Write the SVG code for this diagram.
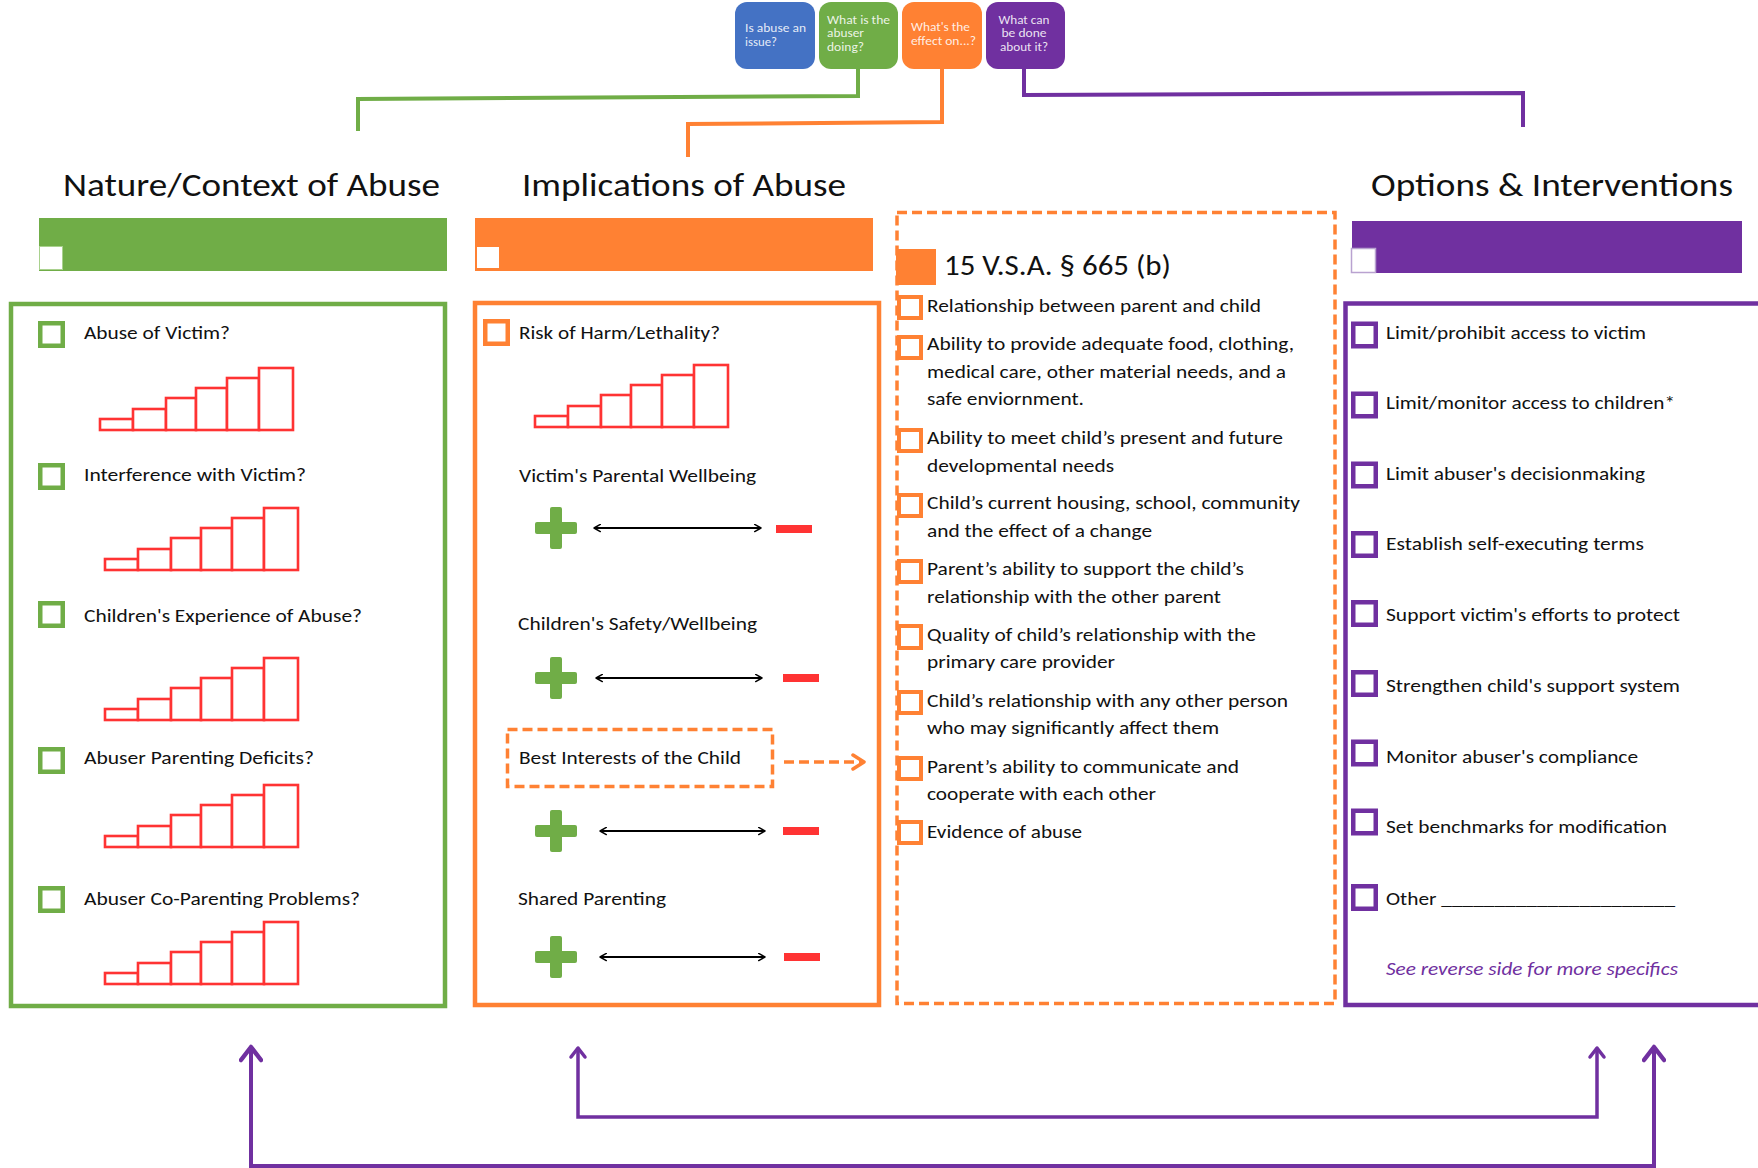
<svg xmlns="http://www.w3.org/2000/svg" xmlns:xlink="http://www.w3.org/1999/xlink" width="1758" height="1168" viewBox="0 0 1758 1168">
<style>
text { font-family: Carlito, Lato, "Liberation Sans", sans-serif; fill: #111; }
.q { font-size: 13px; fill: #ffffff; fill-opacity: 0.88; }
.title { font-size: 33px; }
.b { font-size: 19px; }
.stat { font-size: 29px; }
.it { font-style: italic; fill: #7030A0; }
.cbG { fill: #fff; stroke: #70AD47; stroke-width: 4.5; }
.cbO { fill: #fff; stroke: #FF8133; stroke-width: 4.5; }
.cbS { fill: #fff; stroke: #FF8133; stroke-width: 4; }
.cbP { fill: #fff; stroke: #7030A0; stroke-width: 4.5; }
.stair rect { fill: #fff; stroke: #FF3333; stroke-width: 2.6; }
.plus { fill: #70AD47; }
.minus { fill: #FF3333; }
.dbl { stroke: #000; stroke-width: 1.8; fill: none; marker-start: url(#ah); marker-end: url(#ah); }
.conn { fill: none; stroke-width: 4; stroke-linejoin: miter; }
</style>
<defs>
<marker id="ah" viewBox="0 0 10 10" refX="9" refY="5" markerWidth="9" markerHeight="9" markerUnits="userSpaceOnUse" orient="auto-start-reverse">
<path d="M2,1 L9,5 L2,9" fill="none" stroke="#000" stroke-width="1.6" stroke-linecap="round" stroke-linejoin="round"/>
</marker>
<marker id="paB" viewBox="0 0 24 24" refX="20" refY="12" markerWidth="24" markerHeight="24" markerUnits="userSpaceOnUse" orient="auto-start-reverse">
<path d="M7,2 L20,12 L7,22" fill="none" stroke="#7030A0" stroke-width="4.5" stroke-linecap="round" stroke-linejoin="round"/>
</marker>
<marker id="paA" viewBox="0 0 20 20" refX="16" refY="10" markerWidth="20" markerHeight="20" markerUnits="userSpaceOnUse" orient="auto-start-reverse">
<path d="M7,3 L16,10 L7,17" fill="none" stroke="#7030A0" stroke-width="3.5" stroke-linecap="round" stroke-linejoin="round"/>
</marker>
<marker id="oa" viewBox="0 0 20 20" refX="16" refY="10" markerWidth="20" markerHeight="20" markerUnits="userSpaceOnUse" orient="auto">
<path d="M5,3 L16,10 L5,17" fill="none" stroke="#FF8133" stroke-width="3.5" stroke-linecap="round" stroke-linejoin="round"/>
</marker>
<g id="stairs" class="stair">
<rect x="0" y="-11" width="33" height="11"/>
<rect x="33" y="-21" width="33" height="21"/>
<rect x="66" y="-32" width="30" height="32"/>
<rect x="96" y="-42" width="31" height="42"/>
<rect x="127" y="-52" width="32" height="52"/>
<rect x="159" y="-62" width="34" height="62"/>
</g>
<g id="plus" class="plus">
<rect x="-21" y="-6" width="42" height="12" rx="2"/>
<rect x="-6" y="-21" width="12" height="42" rx="2"/>
</g>
</defs>
<rect width="1758" height="1168" fill="#fff"/>

<g id="connectors">
<path class="conn" stroke="#70AD47" d="M858,69 V96 L358,99 V131"/>
<path class="conn" stroke="#FF8133" d="M942,69 V122 L688,124 V157"/>
<path class="conn" stroke="#7030A0" d="M1024,69 V95 L1523,93 V127"/>
<path d="M784,762 H864" fill="none" stroke="#FF8133" stroke-width="3.5" stroke-dasharray="10 5" marker-end="url(#oa)"/>
<path d="M578,1048 V1117 H1597 V1048" fill="none" stroke="#7030A0" stroke-width="3.5" marker-start="url(#paA)" marker-end="url(#paA)"/>
<path d="M251,1047 V1166 H1654 V1047" fill="none" stroke="#7030A0" stroke-width="4" marker-start="url(#paB)" marker-end="url(#paB)"/>
</g>

<g id="q-issue">
<rect x="735" y="2" width="80" height="67" rx="12" fill="#4472C4"/>
<text class="q" x="745" y="32" textLength="61" lengthAdjust="spacingAndGlyphs">Is abuse an</text>
<text class="q" x="745" y="45.5" textLength="32" lengthAdjust="spacingAndGlyphs">issue?</text>
</g>
<g id="q-abuser">
<rect x="819" y="2" width="79" height="67" rx="12" fill="#70AD47"/>
<text class="q" x="827" y="23.5" textLength="63" lengthAdjust="spacingAndGlyphs">What is the</text>
<text class="q" x="827" y="37" textLength="37" lengthAdjust="spacingAndGlyphs">abuser</text>
<text class="q" x="827" y="50.5" textLength="37" lengthAdjust="spacingAndGlyphs">doing?</text>
</g>
<g id="q-effect">
<rect x="902" y="2" width="80" height="67" rx="12" fill="#FF8133"/>
<text class="q" x="911" y="31" textLength="59" lengthAdjust="spacingAndGlyphs">What's the</text>
<text class="q" x="911" y="45" textLength="65" lengthAdjust="spacingAndGlyphs">effect on...?</text>
</g>
<g id="q-done">
<rect x="986" y="2" width="79" height="67" rx="12" fill="#7030A0"/>
<text class="q" x="1024" y="23.5" text-anchor="middle" textLength="51" lengthAdjust="spacingAndGlyphs">What can</text>
<text class="q" x="1024" y="37" text-anchor="middle" textLength="45" lengthAdjust="spacingAndGlyphs">be done</text>
<text class="q" x="1024" y="50.5" text-anchor="middle" textLength="48" lengthAdjust="spacingAndGlyphs">about it?</text>
</g>

<g id="nature">
<text class="title" x="63" y="196" textLength="377" lengthAdjust="spacingAndGlyphs">Nature/Context of Abuse</text>
<rect x="39" y="218" width="408" height="53" fill="#70AD47"/>
<rect x="39.5" y="246.5" width="23" height="23" fill="#fff" stroke="#A9D18E" stroke-width="1"/>
<rect x="11" y="304" width="434" height="702" fill="none" stroke="#70AD47" stroke-width="4.5"/>
<rect class="cbG" x="40.25" y="323.25" width="22.5" height="22.5"/>
<text class="b" x="84" y="339" textLength="146" lengthAdjust="spacingAndGlyphs">Abuse of Victim?</text>
<use xlink:href="#stairs" href="#stairs" x="100" y="430"/>
<rect class="cbG" x="40.25" y="465.25" width="22.5" height="22.5"/>
<text class="b" x="84" y="480.5" textLength="222" lengthAdjust="spacingAndGlyphs">Interference with Victim?</text>
<use xlink:href="#stairs" href="#stairs" x="105" y="570"/>
<rect class="cbG" x="40.25" y="603.25" width="22.5" height="22.5"/>
<text class="b" x="84" y="622" textLength="278" lengthAdjust="spacingAndGlyphs">Children's Experience of Abuse?</text>
<use xlink:href="#stairs" href="#stairs" x="105" y="720"/>
<rect class="cbG" x="40.25" y="749.25" width="22.5" height="22.5"/>
<text class="b" x="84" y="764" textLength="230" lengthAdjust="spacingAndGlyphs">Abuser Parenting Deficits?</text>
<use xlink:href="#stairs" href="#stairs" x="105" y="847"/>
<rect class="cbG" x="40.25" y="888.25" width="22.5" height="22.5"/>
<text class="b" x="84" y="905" textLength="276" lengthAdjust="spacingAndGlyphs">Abuser Co-Parenting Problems?</text>
<use xlink:href="#stairs" href="#stairs" x="105" y="984"/>
</g>

<g id="implications">
<text class="title" x="522" y="196" textLength="324" lengthAdjust="spacingAndGlyphs">Implications of Abuse</text>
<rect x="475" y="218" width="398" height="53" fill="#FF8133"/>
<rect x="477" y="247" width="22" height="21" fill="#fff"/>
<rect x="475" y="303" width="404" height="702" fill="none" stroke="#FF8133" stroke-width="4.5"/>
<rect class="cbO" x="485.25" y="321.25" width="22.5" height="22.5"/>
<text class="b" x="519" y="339" textLength="201" lengthAdjust="spacingAndGlyphs">Risk of Harm/Lethality?</text>
<use xlink:href="#stairs" href="#stairs" x="535" y="427"/>
<text class="b" x="519" y="482" textLength="237" lengthAdjust="spacingAndGlyphs">Victim's Parental Wellbeing</text>
<use xlink:href="#plus" href="#plus" x="556" y="528"/>
<path class="dbl" d="M594,528 H761"/>
<rect class="minus" x="776" y="525" width="36" height="8"/>
<text class="b" x="518" y="630" textLength="239" lengthAdjust="spacingAndGlyphs">Children's Safety/Wellbeing</text>
<use xlink:href="#plus" href="#plus" x="556" y="678"/>
<path class="dbl" d="M596,678 H762"/>
<rect class="minus" x="783" y="674" width="36" height="8"/>
<g id="best-interests">
<rect x="507.5" y="729.5" width="265" height="57" fill="none" stroke="#FF8133" stroke-width="3.5" stroke-dasharray="10 5"/>
<text class="b" x="519" y="764" textLength="222" lengthAdjust="spacingAndGlyphs">Best Interests of the Child</text>
</g>
<use xlink:href="#plus" href="#plus" x="556" y="831"/>
<path class="dbl" d="M600,831 H765"/>
<rect class="minus" x="783" y="827" width="36" height="8"/>
<text class="b" x="518" y="905" textLength="148" lengthAdjust="spacingAndGlyphs">Shared Parenting</text>
<use xlink:href="#plus" href="#plus" x="556" y="957"/>
<path class="dbl" d="M600,957 H765"/>
<rect class="minus" x="784" y="953" width="36" height="8"/>
</g>

<g id="statute">
<rect x="897" y="212.5" width="438" height="791" fill="none" stroke="#FF8133" stroke-width="3.5" stroke-dasharray="10 5"/>
<rect x="896" y="249" width="40" height="36" fill="#FF8133"/>
<text class="stat" x="944" y="275" textLength="227" lengthAdjust="spacingAndGlyphs">15 V.S.A. § 665 (b)</text>
<rect class="cbS" x="899" y="297" width="22" height="21"/>
<text class="b" x="927" y="312" textLength="334" lengthAdjust="spacingAndGlyphs">Relationship between parent and child</text>
<rect class="cbS" x="899" y="337" width="22" height="21"/>
<text class="b" x="927" y="350" textLength="367" lengthAdjust="spacingAndGlyphs">Ability to provide adequate food, clothing,</text>
<text class="b" x="927" y="378" textLength="359" lengthAdjust="spacingAndGlyphs">medical care, other material needs, and a</text>
<text class="b" x="927" y="405" textLength="157" lengthAdjust="spacingAndGlyphs">safe enviornment.</text>
<rect class="cbS" x="899" y="430" width="22" height="21"/>
<text class="b" x="927" y="444" textLength="356" lengthAdjust="spacingAndGlyphs">Ability to meet child’s present and future</text>
<text class="b" x="927" y="472" textLength="187" lengthAdjust="spacingAndGlyphs">developmental needs</text>
<rect class="cbS" x="899" y="495" width="22" height="21"/>
<text class="b" x="927" y="509" textLength="373" lengthAdjust="spacingAndGlyphs">Child’s current housing, school, community</text>
<text class="b" x="927" y="537" textLength="225" lengthAdjust="spacingAndGlyphs">and the effect of a change</text>
<rect class="cbS" x="899" y="561" width="22" height="21"/>
<text class="b" x="927" y="575" textLength="317" lengthAdjust="spacingAndGlyphs">Parent’s ability to support the child’s</text>
<text class="b" x="927" y="603" textLength="294" lengthAdjust="spacingAndGlyphs">relationship with the other parent</text>
<rect class="cbS" x="899" y="626" width="22" height="22"/>
<text class="b" x="927" y="641" textLength="329" lengthAdjust="spacingAndGlyphs">Quality of child’s relationship with the</text>
<text class="b" x="927" y="668" textLength="188" lengthAdjust="spacingAndGlyphs">primary care provider</text>
<rect class="cbS" x="899" y="692" width="22" height="21"/>
<text class="b" x="927" y="707" textLength="361" lengthAdjust="spacingAndGlyphs">Child’s relationship with any other person</text>
<text class="b" x="927" y="734" textLength="292" lengthAdjust="spacingAndGlyphs">who may significantly affect them</text>
<rect class="cbS" x="899" y="758" width="22" height="21"/>
<text class="b" x="927" y="773" textLength="312" lengthAdjust="spacingAndGlyphs">Parent’s ability to communicate and</text>
<text class="b" x="927" y="800" textLength="229" lengthAdjust="spacingAndGlyphs">cooperate with each other</text>
<rect class="cbS" x="899" y="822" width="22" height="21"/>
<text class="b" x="927" y="838" textLength="155" lengthAdjust="spacingAndGlyphs">Evidence of abuse</text>
</g>

<g id="options">
<text class="title" x="1371" y="196" textLength="362" lengthAdjust="spacingAndGlyphs">Options &amp; Interventions</text>
<rect x="1352" y="221" width="390" height="52" fill="#7030A0"/>
<rect x="1351.5" y="248.5" width="24" height="24" fill="#fff" stroke="#B9A2D0" stroke-width="1.5"/>
<path d="M1770,303.5 H1345.5 V1005 H1770" fill="none" stroke="#7030A0" stroke-width="4.5"/>
<rect class="cbP" x="1353.25" y="323.75" width="22.5" height="22.5"/>
<text class="b" x="1386" y="339" textLength="260" lengthAdjust="spacingAndGlyphs">Limit/prohibit access to victim</text>
<rect class="cbP" x="1353.25" y="393.75" width="22.5" height="22.5"/>
<text class="b" x="1386" y="409" textLength="289" lengthAdjust="spacingAndGlyphs">Limit/monitor access to children*</text>
<rect class="cbP" x="1353.25" y="463.75" width="22.5" height="22.5"/>
<text class="b" x="1386" y="480" textLength="259" lengthAdjust="spacingAndGlyphs">Limit abuser's decisionmaking</text>
<rect class="cbP" x="1353.25" y="533.25" width="22.5" height="22.5"/>
<text class="b" x="1386" y="550" textLength="258" lengthAdjust="spacingAndGlyphs">Establish self-executing terms</text>
<rect class="cbP" x="1353.25" y="602.25" width="22.5" height="22.5"/>
<text class="b" x="1386" y="621" textLength="294" lengthAdjust="spacingAndGlyphs">Support victim's efforts to protect</text>
<rect class="cbP" x="1353.25" y="672.25" width="22.5" height="22.5"/>
<text class="b" x="1386" y="692" textLength="294" lengthAdjust="spacingAndGlyphs">Strengthen child's support system</text>
<rect class="cbP" x="1353.25" y="741.75" width="22.5" height="22.5"/>
<text class="b" x="1386" y="763" textLength="252" lengthAdjust="spacingAndGlyphs">Monitor abuser's compliance</text>
<rect class="cbP" x="1353.25" y="810.75" width="22.5" height="22.5"/>
<text class="b" x="1386" y="833" textLength="281" lengthAdjust="spacingAndGlyphs">Set benchmarks for modification</text>
<rect class="cbP" x="1353.25" y="886.25" width="22.5" height="22.5"/>
<text class="b" x="1386" y="905" textLength="289" lengthAdjust="spacingAndGlyphs">Other ______________________</text>
<text class="b it" x="1386" y="975" textLength="292" lengthAdjust="spacingAndGlyphs">See reverse side for more specifics</text>
</g>
</svg>
